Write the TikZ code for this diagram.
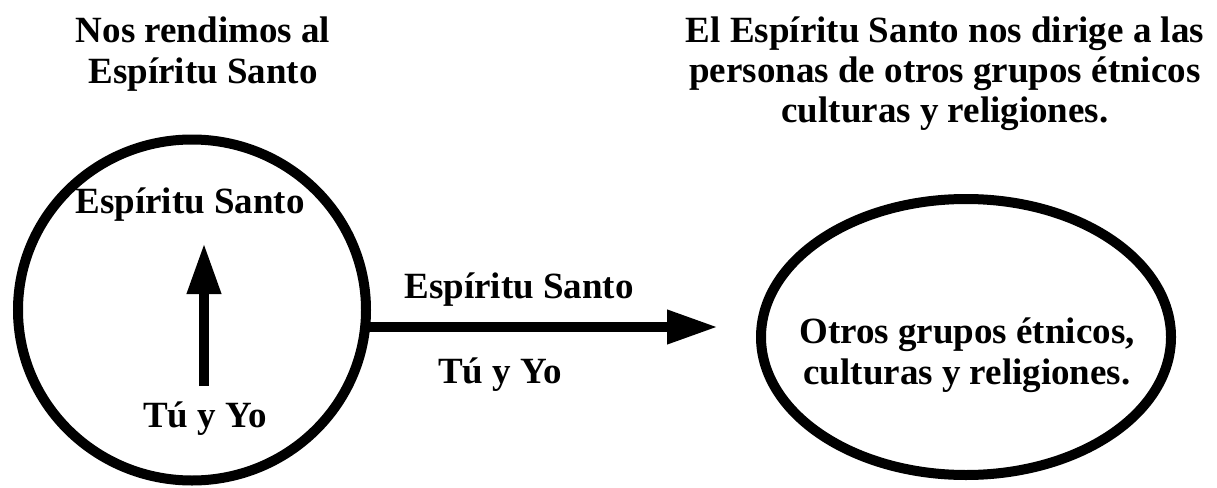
\documentclass[tikz,border=0pt]{standalone}
\usepackage{fontspec}
\setmainfont{Liberation Serif}
\usetikzlibrary{shapes.geometric,arrows.meta}
\tikzset{
	txt/.style={font=\fontsize{37}{40}\selectfont\bfseries, align=center, inner sep=0pt, anchor=base},
	ring/.style={draw, line width=10pt, ellipse, inner sep=0pt},
	flecha/.style={line width=10pt, -{Triangle[length=51pt,width=32pt]}}
}
\begin{document}
\begin{tikzpicture}[x=1pt,y=-1pt]
	\useasboundingbox (0,0) rectangle (1217,487);
	% titulos
	\node[txt] (tituloA) at (203,83) {Nos rendimos al\\Espíritu Santo};
	\node[txt] (tituloB) at (945,122) {El Espíritu Santo nos dirige a las\\personas de otros grupos étnicos\\culturas y religiones.};
	% circulo y elipse
	\node[ring, minimum width=348pt, minimum height=341pt] (yo) at (192,310) {};
	\node[ring, minimum width=410pt, minimum height=276pt] (otros) at (966,337) {};
	\node[txt] (espA) at (190,213) {Espíritu Santo};
	\node[txt] (tuyoA) at (205,427) {Tú y Yo};
	\node[txt] (espB) at (519,298) {Espíritu Santo};
	\node[txt] (tuyoB) at (500,383) {Tú y Yo};
	\node[txt] (otrosTxt) at (967,384) {Otros grupos étnicos,\\[1pt]culturas y religiones.};
	% flechas
	\coordinate (subeA) at (204,386);
	\coordinate (subeB) at (204,243);
	\coordinate (sale) at (365,327);
	\draw[flecha] (subeA) -- (subeB);
	\draw[flecha, shorten >=38pt] (sale) -- (sale -| otros.west);
\end{tikzpicture}
\end{document}
